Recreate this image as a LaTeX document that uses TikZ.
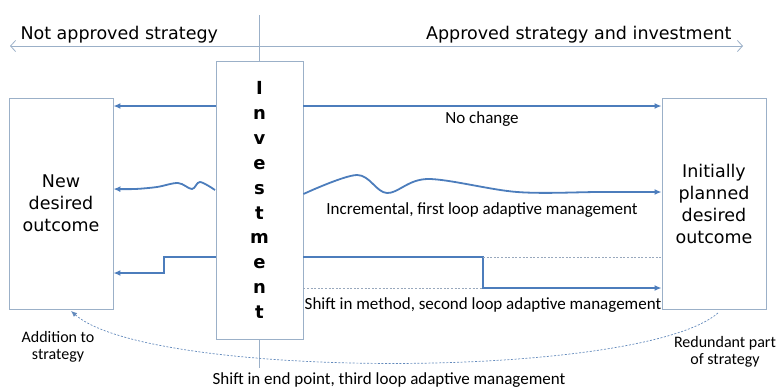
\documentclass[tikz,border=0pt]{standalone}
\usepackage{fontspec}
\setmainfont{DejaVu Sans}
\newfontfamily\calfont{Carlito}
\usepackage{tikz}
\usetikzlibrary{positioning,arrows.meta}
\definecolor{flowblue}{HTML}{4C7DBC}
\definecolor{framegray}{HTML}{9BB0C8}
\definecolor{dotgray}{HTML}{98A8BD}

\begin{document}
\begin{tikzpicture}[x=1pt,y=-1pt,
    outbox/.style={draw=framegray, line width=0.9pt, minimum width=104pt, minimum height=211pt,
        inner sep=0pt, align=center, font=\fontsize{17.5}{22}\selectfont},
    flow/.style={draw=flowblue, line width=1.8pt, -{Latex[length=7pt,width=6pt]}},
    guide/.style={draw=dotgray, line width=0.7pt, dash pattern=on 2pt off 1.6pt},
    lbl/.style={align=center, font=\calfont\fontsize{17}{17}\selectfont},
    sidelbl/.style={align=center, font=\calfont\fontsize{16}{16.5}\selectfont}]
    \useasboundingbox (0,0) rectangle (779,389);

    % the two outcomes and the investment column
    \node[outbox] (newout) at (61,203.5) {New\\desired\\outcome};
    \node[outbox] (initout) at (714,203.5) {Initially\\planned\\desired\\outcome};
    \node[draw=framegray, line width=0.9pt, minimum width=87pt, minimum height=278pt, inner sep=0pt,
        align=center, font=\bfseries\fontsize{18}{24.9}\selectfont] (invest) at (259.5,200)
        {I\\n\\v\\e\\s\\t\\m\\e\\n\\t};

    % strategy axis
    \coordinate (notapp) at (10,46);
    \coordinate (app) at (743,46);
    \draw[framegray, line width=0.8pt, {Straight Barb[length=5pt,width=11pt]}-{Straight Barb[length=5pt,width=11pt]}] (notapp) -- (app);
    \node[font=\fontsize{17.5}{20}\selectfont, anchor=base west] (notapplbl) at (17,39) {Not approved strategy};
    \node[font=\fontsize{17.5}{20}\selectfont, anchor=base east] (applbl) at (735,39) {Approved strategy and investment};
    \coordinate (axtop) at (259.5,15);
    \coordinate (axbot) at (259.5,368);
    \draw[framegray, line width=0.8pt] (axtop) -- (invest.north);
    \draw[framegray, line width=0.8pt] (invest.south) -- (axbot);

    % no change
    \draw[flow] (invest.west |- 0,106) -- (newout.east |- 0,106);
    \draw[flow] (invest.east |- 0,106) -- (initout.west |- 0,106);
    \node[lbl] (nochange) at (482,119) {No change};

    % first loop
    \draw[flow] plot[smooth, tension=0.55] coordinates {(215,190) (200,182) (192,189) (178,183) (157,187) (135,189) (newout.east |- 0,189)};
    \draw[flow] plot[smooth, tension=0.55] coordinates {(invest.east |- 0,194) (357,175) (387,193) (428,179) (517,192) (600,192) (initout.west |- 0,192)};
    \node[lbl] (firstloop) at (482,210) {Incremental, first loop adaptive management};

    % second loop
    \draw[flow] (invest.west |- 0,257) -- (164,257) -- (164,273) -- (newout.east |- 0,273);
    \draw[flow] (invest.east |- 0,257) -- (483,257) -- (483,288) -- (initout.west |- 0,288);
    \draw[guide] (483,257) -- (initout.west |- 0,257);
    \draw[guide] (invest.east |- 0,288) -- (483,288);
    \node[lbl] (secondloop) at (483,305) {Shift in method, second loop adaptive management};

    % third loop
    \coordinate (redund) at (718,313);
    \coordinate (addit) at (71,311);
    \draw[guide, -{Latex[length=6pt,width=5pt]}, flowblue!70!dotgray] (redund) .. controls (640,380) and (150,380) .. (addit);
    \node[sidelbl] (additlbl) at (58,347) {Addition to\\strategy};
    \node[sidelbl] (redundlbl) at (725,352) {Redundant part\\of strategy};
    \node[lbl] (thirdloop) at (389,380) {Shift in end point, third loop adaptive management};
\end{tikzpicture}
\end{document}
